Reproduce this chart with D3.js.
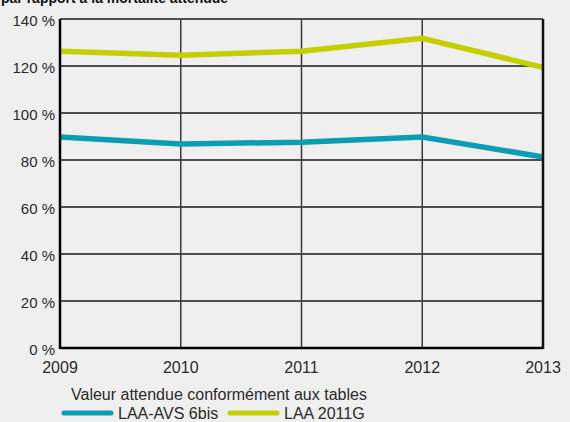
<!DOCTYPE html>
<html><head><meta charset="utf-8">
<script src="https://cdn.jsdelivr.net/npm/d3@7"></script>
<style>
body{margin:0;background:#efefef;}
svg{display:block;font-family:"Liberation Sans",Arial,sans-serif;}
</style></head><body>
<svg id="c" width="570" height="422"></svg>
<script>
const years = [2009, 2010, 2011, 2012, 2013];
const laaAvs6bis = [89.8, 86.8, 87.6, 89.8, 81.3];
const laa2011G = [126.3, 124.6, 126.3, 131.8, 119.4];
const yTicks = [0, 20, 40, 60, 80, 100, 120, 140];
const seriesNames = ["LAA-AVS 6bis", "LAA 2011G"];
const seriesColors = ["#0a9db3", "#c4cf00"];
const legendTitle = "Valeur attendue conformément aux tables";
const chartTitle = "par rapport à la mortalité attendue";

const svg = d3.select("#c");
const L = 60, R = 543, T = 19, B = 348;
const x = d3.scaleLinear().domain([2009, 2013]).range([L, R]);
const y = d3.scaleLinear().domain([0, 140]).range([B, T]);

svg.append("rect").attr("width",570).attr("height",422).attr("fill","#efefef");

svg.append("text").attr("x",1).attr("y",3).attr("font-size",14).attr("font-weight","bold")
  .attr("fill","#111").text(chartTitle);

// horizontal grid
svg.append("g").selectAll("line").data(yTicks).join("line")
  .attr("x1",L).attr("x2",R).attr("y1",d=>y(d)).attr("y2",d=>y(d))
  .attr("stroke","#1a1a1a").attr("stroke-width",1.5);
// vertical grid
svg.append("g").selectAll("line").data(years.slice(1,-1)).join("line")
  .attr("x1",d=>x(d)).attr("x2",d=>x(d)).attr("y1",T).attr("y2",B)
  .attr("stroke","#3a3a3a").attr("stroke-width",1.5);

// y labels
svg.append("g").selectAll("text").data(yTicks).join("text")
  .attr("x",55).attr("y",d=>y(d)+6.5).attr("text-anchor","end")
  .attr("font-size",15).attr("fill","#2a2a2a").text(d=>d+" %");
// x labels
svg.append("g").selectAll("text").data(years).join("text")
  .attr("x",d=>x(d)).attr("y",373).attr("text-anchor","middle")
  .attr("font-size",16).attr("fill","#2a2a2a").text(d=>d);

// lines
const line = d3.line().x((d,i)=>x(years[i])).y(d=>y(d));
[laaAvs6bis, laa2011G].forEach((s,i)=>{
  svg.append("path").attr("d",line(s)).attr("fill","none")
    .attr("stroke",seriesColors[i]).attr("stroke-width",5.5);
});

// frame
svg.append("line").attr("x1",L).attr("x2",L).attr("y1",T).attr("y2",B+1).attr("stroke","#000").attr("stroke-width",2.5);
svg.append("line").attr("x1",R).attr("x2",R).attr("y1",T).attr("y2",B+1).attr("stroke","#111").attr("stroke-width",2.5);
svg.append("line").attr("x1",L).attr("x2",R).attr("y1",B).attr("y2",B).attr("stroke","#000").attr("stroke-width",2.5);

// legend
svg.append("text").attr("x",71).attr("y",400).attr("font-size",16).attr("fill","#2a2a2a").text(legendTitle);
const lx = [62, 228];
seriesNames.forEach((n,i)=>{
  svg.append("line").attr("x1",lx[i]+2).attr("x2",lx[i]+49).attr("y1",413).attr("y2",413)
    .attr("stroke",seriesColors[i]).attr("stroke-width",5).attr("stroke-linecap","round");
  svg.append("text").attr("x",lx[i]+56).attr("y",418.5).attr("font-size",16).attr("fill","#2a2a2a").text(n);
});
</script>
</body></html>
